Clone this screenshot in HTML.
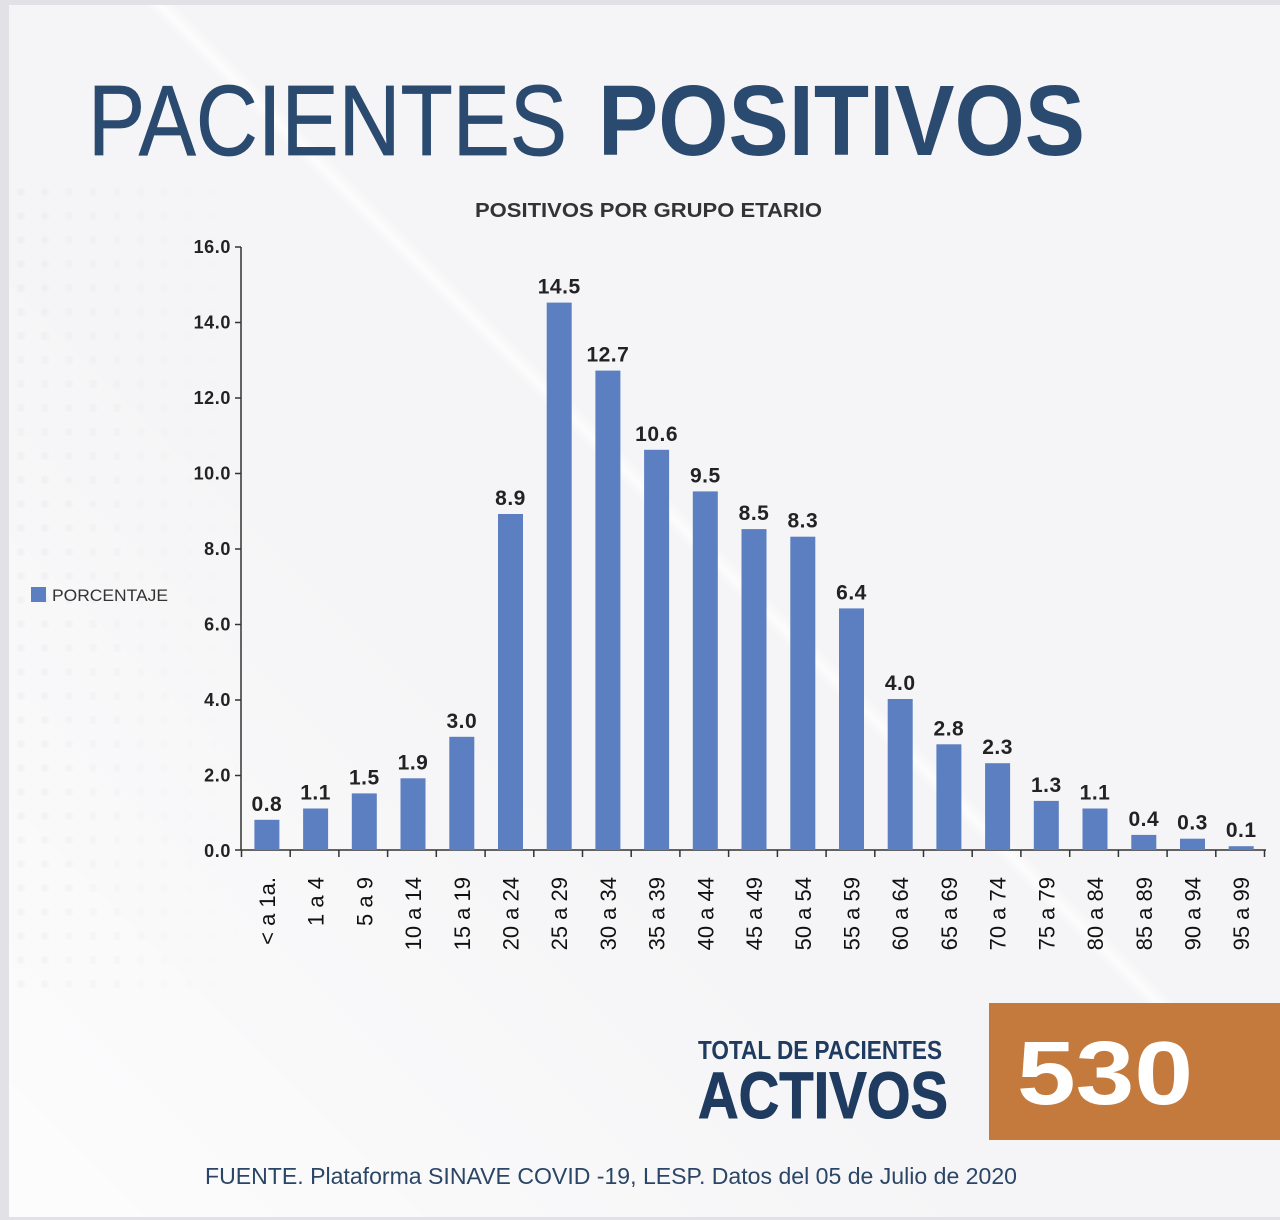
<!DOCTYPE html>
<html><head><meta charset="utf-8"><style>
html,body{margin:0;padding:0;}
body{width:1280px;height:1220px;background:#e2e2e6;position:relative;overflow:hidden;font-family:"Liberation Sans",sans-serif;}
.card{position:absolute;left:9px;top:5px;width:1271px;height:1212px;
background:
linear-gradient(45deg, rgba(255,255,255,0) 0%, rgba(255,255,255,0) 54.3%, rgba(255,255,255,0.75) 54.9%, rgba(255,255,255,0) 55.6%, rgba(255,255,255,0) 100%),
linear-gradient(45deg, rgba(255,255,255,0.75) 0%, rgba(255,255,255,0.3) 25%, rgba(255,255,255,0) 40%),
#f5f5f7;}
.dots{position:absolute;left:9px;top:180px;width:240px;height:820px;
background-image:radial-gradient(circle, rgba(205,205,212,0.18) 0, rgba(205,205,212,0.18) 3.5px, rgba(0,0,0,0) 4.5px);
background-size:24px 24px;
-webkit-mask-image:linear-gradient(90deg, rgba(0,0,0,0.7), rgba(0,0,0,0));
mask-image:linear-gradient(90deg, rgba(0,0,0,0.7), rgba(0,0,0,0));}
svg{position:absolute;left:0;top:0;}
</style></head><body>
<div class="card"></div>
<div class="dots"></div>
<svg width="1280" height="1220" viewBox="0 0 1280 1220" xmlns="http://www.w3.org/2000/svg" font-family="Liberation Sans, sans-serif">
<text x="88" y="155" font-size="100" fill="#2b4a6f" stroke="#2b4a6f" stroke-width="0.8" textLength="479" lengthAdjust="spacingAndGlyphs">PACIENTES</text>
<text x="598" y="155" font-size="100" font-weight="bold" fill="#2b4a6f" textLength="487" lengthAdjust="spacingAndGlyphs">POSITIVOS</text>
<text x="475" y="217" font-size="20" font-weight="bold" fill="#333" textLength="347" lengthAdjust="spacingAndGlyphs">POSITIVOS POR GRUPO ETARIO</text>

<rect x="31" y="587" width="15" height="15" fill="#5b7fc0"/>
<text x="52" y="601" font-size="17" fill="#333" textLength="116" lengthAdjust="spacingAndGlyphs">PORCENTAJE</text>

<g stroke="#333" stroke-width="1.5" fill="none">
<line x1="241" y1="247" x2="241" y2="850"/>
<line x1="235" y1="850" x2="1266" y2="850"/>
<line x1="235" y1="247" x2="241" y2="247"/>
<line x1="235" y1="322.5" x2="241" y2="322.5"/>
<line x1="235" y1="398" x2="241" y2="398"/>
<line x1="235" y1="473.5" x2="241" y2="473.5"/>
<line x1="235" y1="549" x2="241" y2="549"/>
<line x1="235" y1="624.5" x2="241" y2="624.5"/>
<line x1="235" y1="700" x2="241" y2="700"/>
<line x1="235" y1="775.5" x2="241" y2="775.5"/>
</g>
<g font-size="18" font-weight="bold" fill="#222" text-anchor="end" letter-spacing="0.6">
<text x="231" y="253">16.0</text>
<text x="231" y="328.5">14.0</text>
<text x="231" y="404">12.0</text>
<text x="231" y="479.5">10.0</text>
<text x="231" y="555">8.0</text>
<text x="231" y="630.5">6.0</text>
<text x="231" y="706">4.0</text>
<text x="231" y="781.5">2.0</text>
<text x="231" y="857">0.0</text>
</g>

<text x="698" y="1059" font-size="26" font-weight="bold" fill="#1f3b60" textLength="244" lengthAdjust="spacingAndGlyphs">TOTAL DE PACIENTES</text>
<text x="698" y="1118" font-size="66" font-weight="bold" fill="#1f3b60" stroke="#1f3b60" stroke-width="1" textLength="250" lengthAdjust="spacingAndGlyphs">ACTIVOS</text>
<rect x="989" y="1003" width="291" height="137" fill="#c47a3c"/>
<text x="1017" y="1104" font-size="90" font-weight="bold" fill="#ffffff" textLength="176" lengthAdjust="spacingAndGlyphs">530</text>
<text x="205" y="1184" font-size="23" fill="#2b4566" textLength="812" lengthAdjust="spacingAndGlyphs">FUENTE. Plataforma SINAVE COVID -19, LESP. Datos del 05 de Julio de 2020</text>

<g fill="#5b7fc0">
<rect x="254.4" y="819.8" width="25" height="30.2"/>
<rect x="303.1" y="808.5" width="25" height="41.5"/>
<rect x="351.8" y="793.4" width="25" height="56.6"/>
<rect x="400.5" y="778.3" width="25" height="71.7"/>
<rect x="449.3" y="736.8" width="25" height="113.3"/>
<rect x="498.0" y="514.0" width="25" height="336.0"/>
<rect x="546.7" y="302.6" width="25" height="547.4"/>
<rect x="595.4" y="370.6" width="25" height="479.4"/>
<rect x="644.1" y="449.8" width="25" height="400.2"/>
<rect x="692.8" y="491.4" width="25" height="358.6"/>
<rect x="741.5" y="529.1" width="25" height="320.9"/>
<rect x="790.3" y="536.7" width="25" height="313.3"/>
<rect x="839.0" y="608.4" width="25" height="241.6"/>
<rect x="887.7" y="699.0" width="25" height="151.0"/>
<rect x="936.4" y="744.3" width="25" height="105.7"/>
<rect x="985.1" y="763.2" width="25" height="86.8"/>
<rect x="1033.8" y="800.9" width="25" height="49.1"/>
<rect x="1082.5" y="808.5" width="25" height="41.5"/>
<rect x="1131.3" y="834.9" width="25" height="15.1"/>
<rect x="1180.0" y="838.7" width="25" height="11.3"/>
<rect x="1228.7" y="846.2" width="25" height="3.8"/>
</g>
<g stroke="#333" stroke-width="1.5">
<line x1="241.5" y1="850" x2="241.5" y2="857"/>
<line x1="290.2" y1="850" x2="290.2" y2="857"/>
<line x1="338.9" y1="850" x2="338.9" y2="857"/>
<line x1="387.6" y1="850" x2="387.6" y2="857"/>
<line x1="436.3" y1="850" x2="436.3" y2="857"/>
<line x1="485.1" y1="850" x2="485.1" y2="857"/>
<line x1="533.8" y1="850" x2="533.8" y2="857"/>
<line x1="582.5" y1="850" x2="582.5" y2="857"/>
<line x1="631.2" y1="850" x2="631.2" y2="857"/>
<line x1="679.9" y1="850" x2="679.9" y2="857"/>
<line x1="728.6" y1="850" x2="728.6" y2="857"/>
<line x1="777.4" y1="850" x2="777.4" y2="857"/>
<line x1="826.1" y1="850" x2="826.1" y2="857"/>
<line x1="874.8" y1="850" x2="874.8" y2="857"/>
<line x1="923.5" y1="850" x2="923.5" y2="857"/>
<line x1="972.2" y1="850" x2="972.2" y2="857"/>
<line x1="1020.9" y1="850" x2="1020.9" y2="857"/>
<line x1="1069.7" y1="850" x2="1069.7" y2="857"/>
<line x1="1118.4" y1="850" x2="1118.4" y2="857"/>
<line x1="1167.1" y1="850" x2="1167.1" y2="857"/>
<line x1="1215.8" y1="850" x2="1215.8" y2="857"/>
<line x1="1264.5" y1="850" x2="1264.5" y2="857"/>
</g>
<g font-size="21" font-weight="bold" fill="#222" text-anchor="middle" letter-spacing="0.5">
<text x="266.9" y="810.8">0.8</text>
<text x="315.6" y="799.5">1.1</text>
<text x="364.3" y="784.4">1.5</text>
<text x="413.0" y="769.3">1.9</text>
<text x="461.8" y="727.8">3.0</text>
<text x="510.5" y="505.0">8.9</text>
<text x="559.2" y="293.6">14.5</text>
<text x="607.9" y="361.6">12.7</text>
<text x="656.6" y="440.8">10.6</text>
<text x="705.3" y="482.4">9.5</text>
<text x="754.0" y="520.1">8.5</text>
<text x="802.8" y="527.7">8.3</text>
<text x="851.5" y="599.4">6.4</text>
<text x="900.2" y="690.0">4.0</text>
<text x="948.9" y="735.3">2.8</text>
<text x="997.6" y="754.2">2.3</text>
<text x="1046.3" y="791.9">1.3</text>
<text x="1095.0" y="799.5">1.1</text>
<text x="1143.8" y="825.9">0.4</text>
<text x="1192.5" y="829.7">0.3</text>
<text x="1241.2" y="837.2">0.1</text>
</g>
<g font-size="22" fill="#111" text-anchor="end">
<text transform="translate(274.9,877) rotate(-90)">&lt; a 1a.</text>
<text transform="translate(323.6,877) rotate(-90)">1 a 4</text>
<text transform="translate(372.3,877) rotate(-90)">5 a 9</text>
<text transform="translate(421.0,877) rotate(-90)">10 a 14</text>
<text transform="translate(469.8,877) rotate(-90)">15 a 19</text>
<text transform="translate(518.5,877) rotate(-90)">20 a 24</text>
<text transform="translate(567.2,877) rotate(-90)">25 a 29</text>
<text transform="translate(615.9,877) rotate(-90)">30 a 34</text>
<text transform="translate(664.6,877) rotate(-90)">35 a 39</text>
<text transform="translate(713.3,877) rotate(-90)">40 a 44</text>
<text transform="translate(762.0,877) rotate(-90)">45 a 49</text>
<text transform="translate(810.8,877) rotate(-90)">50 a 54</text>
<text transform="translate(859.5,877) rotate(-90)">55 a 59</text>
<text transform="translate(908.2,877) rotate(-90)">60 a 64</text>
<text transform="translate(956.9,877) rotate(-90)">65 a 69</text>
<text transform="translate(1005.6,877) rotate(-90)">70 a 74</text>
<text transform="translate(1054.3,877) rotate(-90)">75 a 79</text>
<text transform="translate(1103.0,877) rotate(-90)">80 a 84</text>
<text transform="translate(1151.8,877) rotate(-90)">85 a 89</text>
<text transform="translate(1200.5,877) rotate(-90)">90 a 94</text>
<text transform="translate(1249.2,877) rotate(-90)">95 a 99</text>
</g>
</svg>
</body></html>
